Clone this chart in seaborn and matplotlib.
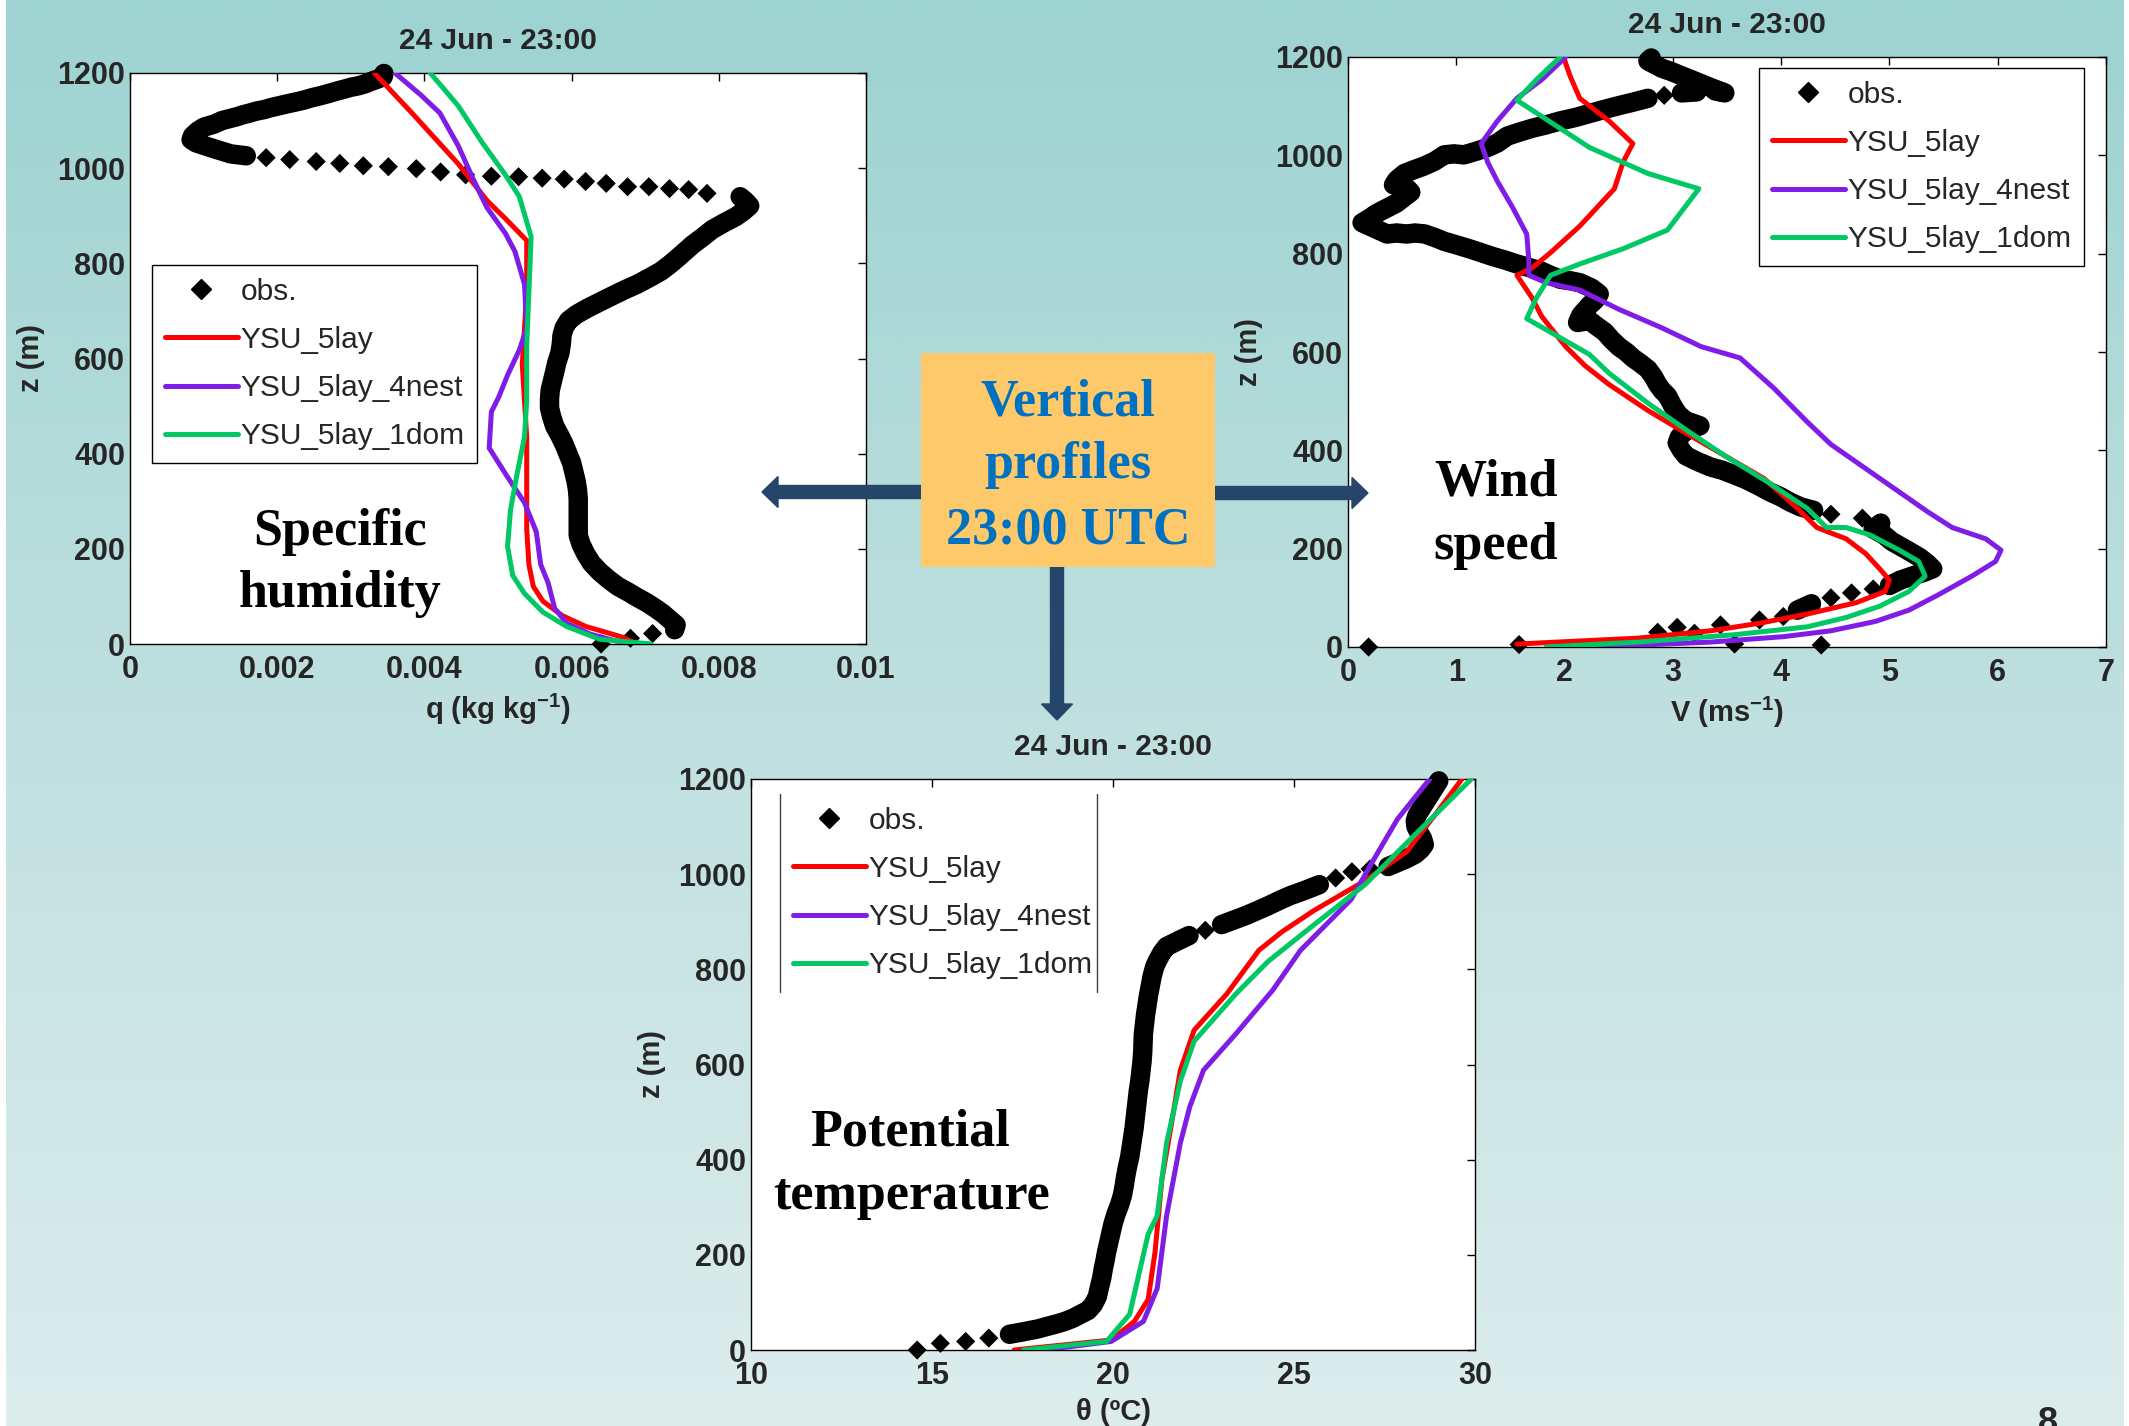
import numpy as np
import matplotlib
matplotlib.use("Agg")
import matplotlib.pyplot as plt
import seaborn as sns
from matplotlib.lines import Line2D
from matplotlib.patches import Rectangle, FancyArrow
from matplotlib.transforms import IdentityTransform
from matplotlib.colors import LinearSegmentedColormap

# ------------------------------------------------------------------
# Specific humidity (kg/kg) profiles
# ------------------------------------------------------------------
q_obs_z = [0, 12, 22, 30, 40, 52, 64, 75, 87, 98, 110, 121, 136, 152, 170, 190, 209, 228,
           247, 266, 286, 305, 324, 343, 362, 381, 400, 419, 438, 458, 477, 496, 515, 534,
           553, 572, 592, 611, 630, 649, 665, 680, 693, 706, 720, 733, 745, 756, 770, 783,
           797, 810, 825, 840, 855, 871, 885, 898, 910, 921, 931, 940, 947, 955, 957, 961,
           961, 968, 972, 977, 979, 982, 983, 986, 992, 999, 1003, 1005, 1010, 1014, 1018,
           1022, 1026, 1030, 1039, 1047, 1053, 1060, 1068, 1078, 1086, 1093, 1100, 1104,
           1108, 1112, 1116, 1120, 1123, 1127, 1131, 1135, 1139, 1143, 1148, 1152, 1157,
           1162, 1166, 1170, 1173, 1177, 1182, 1187, 1192, 1199]
q_obs = [0.0064, 0.0068, 0.0071, 0.0074, 0.00742, 0.00733, 0.00724, 0.00714, 0.00702,
         0.00689, 0.00676, 0.00663, 0.0065, 0.00638, 0.00627, 0.00619, 0.00613, 0.00609,
         0.00609, 0.00609, 0.00609, 0.00609, 0.00608, 0.00606, 0.00603, 0.006, 0.00595,
         0.0059, 0.00584, 0.00577, 0.00573, 0.0057, 0.0057, 0.00571, 0.00574, 0.00577,
         0.0058, 0.00584, 0.00586, 0.00587, 0.0059, 0.00596, 0.00607, 0.00622, 0.0064,
         0.00657, 0.00673, 0.00689, 0.00706, 0.00721, 0.00733, 0.00743, 0.00754, 0.00765,
         0.00778, 0.00791, 0.00807, 0.00823, 0.00834, 0.00842, 0.00836, 0.00829, 0.00784,
         0.00759, 0.00733, 0.00705, 0.00676, 0.00647, 0.00619, 0.0059, 0.0056, 0.00528,
         0.00491, 0.00456, 0.00422, 0.00389, 0.00351, 0.00317, 0.00285, 0.00253, 0.00217,
         0.00185, 0.00158, 0.00137, 0.00118, 0.00102, 0.0009, 0.00083, 0.00085, 0.00092,
         0.001, 0.00115, 0.00125, 0.00135, 0.00145, 0.00153, 0.00163, 0.00172, 0.00182,
         0.00191, 0.00202, 0.00213, 0.00225, 0.00236, 0.00247, 0.00258, 0.0027, 0.00281,
         0.00291, 0.003, 0.0031, 0.00319, 0.00327, 0.00336, 0.00344, 0.00345]

q_5lay_z = [0, 14, 37, 60, 90, 121, 167, 243, 358, 435, 511, 588, 664, 741, 848, 894, 932, 1009, 1116, 1200]
q_5lay = [0.00689, 0.0067, 0.00619, 0.00587, 0.00561, 0.00548, 0.00542, 0.00539, 0.00539,
          0.00539, 0.00536, 0.00533, 0.00536, 0.00539, 0.00539, 0.0051, 0.00485, 0.00446,
          0.00383, 0.00332]

q_4nest_z = [0, 21, 44, 75, 129, 167, 236, 297, 358, 412, 488, 519, 565, 618, 664, 756,
             825, 863, 917, 978, 1047, 1116, 1154, 1200]
q_4nest = [0.00676, 0.00625, 0.00593, 0.00577, 0.00568, 0.00558, 0.00552, 0.00536, 0.0051,
           0.00488, 0.00491, 0.00501, 0.00513, 0.00529, 0.00539, 0.00536, 0.00523, 0.0051,
           0.00485, 0.00466, 0.00446, 0.00421, 0.00395, 0.0036]

q_1dom_z = [0, 10, 37, 67, 106, 144, 205, 282, 358, 435, 511, 626, 741, 856, 940, 986, 1055, 1131, 1200]
q_1dom = [0.00708, 0.00638, 0.00593, 0.00561, 0.00536, 0.0052, 0.00513, 0.00517, 0.00526,
          0.00536, 0.00539, 0.00539, 0.00542, 0.00545, 0.00529, 0.0051, 0.00478, 0.00446,
          0.00408]

q_ticks = [0, 0.002, 0.004, 0.006, 0.008, 0.01]
q_ticklabels = ["0", "0.002", "0.004", "0.006", "0.008", "0.01"]

# ------------------------------------------------------------------
# Wind speed (m/s) profiles
# ------------------------------------------------------------------
v_obs_z = [0, 5, 30, 40, 28, 45, 6, 55, 62, 4, 75, 88, 100, 110, 118, 125, 136, 145, 152,
           159, 170, 182, 195, 205, 215, 228, 240, 252, 262, 270, 278, 285, 295, 305, 315,
           328, 340, 350, 360, 366, 378, 389, 400, 415, 427, 440, 450, 460, 473, 490, 511,
           522, 534, 550, 565, 577, 588, 600, 611, 626, 641, 652, 664, 660, 675, 695, 705,
           718, 730, 741, 745, 748, 756, 764, 772, 779, 787, 794, 802, 810, 818, 825, 833,
           840, 842, 840, 842, 840, 848, 856, 863, 872, 880, 886, 895, 903, 915, 925, 932,
           940, 950, 963, 970, 978, 988, 1001, 1003, 1001, 1008, 1016, 1025, 1039, 1047,
           1055, 1062, 1070, 1077, 1085, 1093, 1101, 1108, 1116, 1122, 1127, 1129, 1131,
           1127, 1137, 1146, 1154, 1162, 1170, 1177, 1185, 1192, 1198]
v_obs = [0.19, 1.58, 2.86, 3.04, 3.2, 3.44, 3.57, 3.8, 4.02, 4.37, 4.15, 4.28, 4.46, 4.65,
         4.85, 5.0, 5.1, 5.22, 5.32, 5.4, 5.35, 5.28, 5.18, 5.1, 5.02, 4.95, 4.85, 4.92,
         4.75, 4.46, 4.3, 4.18, 4.08, 4.0, 3.9, 3.79, 3.68, 3.57, 3.45, 3.35, 3.22, 3.12,
         3.08, 3.04, 3.06, 3.12, 3.25, 3.12, 3.05, 3.0, 2.95, 2.9, 2.86, 2.82, 2.77, 2.7,
         2.63, 2.57, 2.5, 2.43, 2.37, 2.3, 2.23, 2.12, 2.15, 2.23, 2.28, 2.32, 2.25, 2.14,
         2.05, 1.96, 1.87, 1.79, 1.67, 1.56, 1.45, 1.34, 1.23, 1.12, 1.0, 0.89, 0.8, 0.71,
         0.62, 0.54, 0.45, 0.36, 0.28, 0.2, 0.13, 0.2, 0.25, 0.3, 0.38, 0.45, 0.52, 0.58,
         0.55, 0.42, 0.45, 0.52, 0.6, 0.7, 0.8, 0.89, 0.98, 1.07, 1.18, 1.29, 1.38, 1.47,
         1.58, 1.7, 1.83, 1.96, 2.1, 2.23, 2.36, 2.5, 2.63, 2.77, 2.92, 3.08, 3.22, 3.39,
         3.48, 3.36, 3.26, 3.17, 3.08, 2.99, 2.9, 2.83, 2.77, 2.8]

v_5lay_z = [6, 18, 33, 48, 67, 90, 113, 136, 159, 190, 220, 243, 282, 343, 389, 435, 481,
            534, 572, 611, 672, 710, 756, 771, 802, 856, 932, 986, 1024, 1070, 1116, 1162, 1200]
v_5lay = [1.56, 2.68, 3.35, 3.79, 4.24, 4.69, 4.96, 5.0, 4.91, 4.78, 4.6, 4.33, 4.15, 3.84,
          3.48, 3.12, 2.77, 2.41, 2.19, 2.01, 1.79, 1.7, 1.56, 1.7, 1.87, 2.14, 2.46, 2.54,
          2.63, 2.41, 2.14, 2.05, 1.99]

v_4nest_z = [0, 10, 21, 33, 52, 75, 106, 144, 174, 197, 220, 243, 274, 343, 412, 458, 527,
             588, 611, 649, 687, 726, 741, 756, 787, 840, 894, 947, 986, 1024, 1070, 1116,
             1154, 1200]
v_4nest = [2.3, 3.35, 4.02, 4.46, 4.87, 5.18, 5.45, 5.76, 5.98, 6.03, 5.89, 5.58, 5.36, 4.91,
           4.46, 4.24, 3.93, 3.62, 3.26, 2.9, 2.5, 2.14, 1.83, 1.67, 1.67, 1.65, 1.52, 1.38,
           1.29, 1.23, 1.38, 1.56, 1.79, 2.01]

v_1dom_z = [0, 10, 25, 41, 60, 83, 113, 144, 174, 197, 228, 243, 243, 282, 335, 389, 442,
            496, 557, 595, 634, 668, 710, 756, 779, 810, 848, 932, 963, 1016, 1112, 1154, 1200]
v_1dom = [1.83, 2.68, 3.57, 4.24, 4.6, 4.91, 5.18, 5.33, 5.27, 5.09, 4.82, 4.6, 4.42, 4.24,
          3.88, 3.48, 3.12, 2.77, 2.41, 2.23, 1.92, 1.65, 1.74, 1.87, 2.14, 2.54, 2.95, 3.24,
          2.77, 2.23, 1.56, 1.74, 1.96]

v_ticks = [0, 1, 2, 3, 4, 5, 6, 7]

# ------------------------------------------------------------------
# Potential temperature (deg C) profiles
# ------------------------------------------------------------------
t_obs_z = [0, 14, 18, 25, 33, 38, 44, 50, 55, 60, 67, 75, 83, 95, 105, 113, 130, 152, 170,
           188, 205, 225, 245, 265, 285, 305, 325, 345, 365, 385, 405, 425, 445, 465, 485,
           505, 525, 545, 565, 585, 605, 625, 645, 665, 685, 705, 725, 745, 765, 785, 805,
           817, 835, 848, 860, 871, 882, 894, 904, 914, 924, 934, 945, 955, 966, 978, 992,
           1005, 1011, 1016, 1024, 1032, 1042, 1052, 1062, 1075, 1088, 1100, 1112, 1124,
           1136, 1148, 1160, 1172, 1184, 1196]
t_obs = [14.59, 15.23, 15.93, 16.57, 17.14, 17.5, 17.91, 18.2, 18.45, 18.67, 18.9, 19.1,
         19.31, 19.45, 19.52, 19.57, 19.62, 19.69, 19.73, 19.78, 19.82, 19.88, 19.94, 20.0,
         20.08, 20.18, 20.26, 20.31, 20.35, 20.4, 20.46, 20.5, 20.54, 20.58, 20.61, 20.64,
         20.67, 20.7, 20.74, 20.77, 20.8, 20.82, 20.83, 20.84, 20.87, 20.9, 20.94, 20.98,
         21.03, 21.08, 21.15, 21.22, 21.35, 21.48, 21.8, 22.1, 22.55, 23.0, 23.35, 23.7,
         24.0, 24.3, 24.6, 24.9, 25.3, 25.7, 26.15, 26.6, 27.1, 27.6, 27.85, 28.1, 28.35,
         28.5, 28.6, 28.55, 28.45, 28.37, 28.35, 28.4, 28.5, 28.6, 28.7, 28.8, 28.9, 29.0]

t_5lay_z = [0, 21, 60, 106, 205, 358, 473, 588, 672, 748, 840, 879, 924, 986, 1047, 1123, 1200]
t_5lay = [17.27, 19.95, 20.59, 20.97, 21.16, 21.35, 21.61, 21.86, 22.24, 23.14, 24.03, 24.67,
          25.56, 26.96, 28.11, 28.88, 29.64]

t_4nest_z = [0, 18, 60, 129, 282, 435, 511, 588, 664, 756, 840, 947, 1016, 1116, 1200]
t_4nest = [18.1, 19.95, 20.84, 21.22, 21.48, 21.86, 22.12, 22.5, 23.39, 24.41, 25.18, 26.58,
           27.09, 27.86, 28.75]

t_1dom_z = [0, 18, 75, 243, 282, 435, 565, 649, 748, 817, 879, 978, 1085, 1200]
t_1dom = [17.53, 19.82, 20.46, 20.97, 21.22, 21.48, 21.86, 22.24, 23.39, 24.29, 25.31, 26.96,
          28.37, 29.9]

t_ticks = [10, 15, 20, 25, 30]

z_ticks = [0, 200, 400, 600, 800, 1000, 1200]
series_names = ["obs.", "YSU_5lay", "YSU_5lay_4nest", "YSU_5lay_1dom"]
series_colors = ["black", "#ff0000", "#7f1de6", "#00c864"]

# ------------------------------------------------------------------
W, H, DPI = 2129, 1426, 100
LINE_W = 3.6
OBS_S = 95           # diamond marker area (pt^2)
OBS_BAND = 14        # width of the band where sounding points crowd together (pt)
GAP_PX = 16          # points closer than this (pixels) merge into one band

sns.set_style("white")
plt.rcParams["font.family"] = ["Liberation Sans", "DejaVu Sans"]
plt.rcParams["mathtext.fontset"] = "custom"
plt.rcParams["mathtext.rm"] = "Liberation Sans:bold"
plt.rcParams["mathtext.bf"] = "Liberation Sans:bold"
plt.rcParams["mathtext.default"] = "rm"

fig = plt.figure(figsize=(W / DPI, H / DPI), dpi=DPI)
fig.patch.set_facecolor("white")


def fx(px):
    return px / W


def fy(py):
    return 1 - py / H


# slide background: vertical teal gradient with thin white margins
bg = fig.add_axes([fx(6), 0, fx(2118), 1], zorder=-10)
grad = np.linspace(0, 1, 512)[:, None]
bg.imshow(grad, aspect="auto", origin="upper", extent=[0, 1, 0, 1],
          cmap=LinearSegmentedColormap.from_list("slide", ["#9dd3d1", "#bfe0df", "#dcedec"]))
bg.set_axis_off()


def obs_segments(x, z, xlim, wpx, hpx):
    """Split the sounding into runs of closely spaced points."""
    x = np.asarray(x, float)
    z = np.asarray(z, float)
    px = (x - xlim[0]) / (xlim[1] - xlim[0]) * wpx
    pz = z / 1200.0 * hpx
    step = np.hypot(np.diff(px), np.diff(pz))
    breaks = np.where(step > GAP_PX)[0] + 1
    return [(x[a:b], z[a:b]) for a, b in zip(np.r_[0, breaks], np.r_[breaks, len(x)]) if b - a > 1]


def profile_panel(left, top, right, bottom, obs, models, xlim, xticks, xticklabels, xlabel):
    ax = fig.add_axes([fx(left), fy(bottom), fx(right - left), (bottom - top) / H])
    ax.set_facecolor("white")
    for sx, sz in obs_segments(obs[0], obs[1], xlim, right - left, bottom - top):
        sns.lineplot(x=sx, y=sz, sort=False, estimator=None, color="black",
                     linewidth=OBS_BAND, ax=ax, zorder=2, legend=False,
                     solid_capstyle="round", solid_joinstyle="round", clip_on=False)
    sns.scatterplot(x=obs[0], y=obs[1], marker="D", s=OBS_S, color="black", edgecolor="none",
                    linewidth=0, ax=ax, zorder=2, legend=False, clip_on=False)
    for (mx, mz), col in zip(models, series_colors[1:]):
        sns.lineplot(x=mx, y=mz, sort=False, estimator=None, color=col, linewidth=LINE_W,
                     ax=ax, zorder=3, legend=False)
    ax.set_xlim(*xlim)
    ax.set_ylim(0, 1200)
    ax.set_xticks(xticks, xticklabels, fontsize=22, fontweight="bold")
    ax.set_yticks(z_ticks, [str(v) for v in z_ticks], fontsize=22, fontweight="bold")
    ax.tick_params(axis="both", direction="in", top=True, right=True, length=6, width=1,
                   color="black")
    ax.tick_params(axis="x", pad=8)
    ax.tick_params(axis="y", pad=3.5)
    for s in ax.spines.values():
        s.set_visible(True)
        s.set_color("black")
        s.set_linewidth(1.0)
    ax.set_title("24 Jun - 23:00", fontsize=21.5, fontweight="bold", pad=17)
    ax.set_xlabel(xlabel, fontsize=21, fontweight="bold", labelpad=5)
    ax.set_ylabel("z (m)", fontsize=21, fontweight="bold", labelpad=9)
    return ax


def legend_handles():
    hs = [Line2D([], [], marker="D", linestyle="none", color="black", markersize=10,
                 label=series_names[0])]
    for name, col in zip(series_names[1:], series_colors[1:]):
        hs.append(Line2D([], [], color=col, linewidth=LINE_W, label=name))
    return hs


def add_legend(ax, x, y, frame=True):
    leg = ax.legend(handles=legend_handles(), loc="upper left",
                    bbox_to_anchor=(fx(x), fy(y)), bbox_transform=fig.transFigure,
                    borderaxespad=0, fontsize=21.5, frameon=True, fancybox=False,
                    edgecolor="black" if frame else "none", facecolor="white",
                    framealpha=1, handlelength=2.45, handletextpad=0.1,
                    labelspacing=0.68, borderpad=0.42)
    leg.get_frame().set_linewidth(1.0)
    return leg


ax_q = profile_panel(130, 73, 866, 644, (q_obs, q_obs_z),
                     [(q_5lay, q_5lay_z), (q_4nest, q_4nest_z), (q_1dom, q_1dom_z)],
                     (0, 0.01), q_ticks, q_ticklabels, "q (kg kg$^{-1}$)")
add_legend(ax_q, 152, 265)

ax_v = profile_panel(1348, 57, 2106, 647, (v_obs, v_obs_z),
                     [(v_5lay, v_5lay_z), (v_4nest, v_4nest_z), (v_1dom, v_1dom_z)],
                     (0, 7), v_ticks, [str(v) for v in v_ticks], "V (ms$^{-1}$)")
add_legend(ax_v, 1759, 68)

ax_t = profile_panel(751, 779, 1475, 1350, (t_obs, t_obs_z),
                     [(t_5lay, t_5lay_z), (t_4nest, t_4nest_z), (t_1dom, t_1dom_z)],
                     (10, 30), t_ticks, [str(v) for v in t_ticks], "θ (ºC)")
leg_t = add_legend(ax_t, 780, 794, frame=False)

# side rules of the bottom legend
fig.canvas.draw()
bb = leg_t.get_window_extent()
for xx in (bb.x0, bb.x1 - 8):
    fig.add_artist(Line2D([xx, xx], [bb.y0, bb.y1], transform=IdentityTransform(),
                          color="#404040", linewidth=1.0, zorder=10))

# panel captions
cap = dict(fontsize=37.5, fontweight="bold", family="Liberation Serif", ha="center",
           va="baseline", color="black")
fig.text(fx(340), fy(545), "Specific", **cap)
fig.text(fx(340), fy(607), "humidity", **cap)
fig.text(fx(1496), fy(495), "Wind", **cap)
fig.text(fx(1496), fy(559), "speed", **cap)
fig.text(fx(910), fy(1146), "Potential", **cap)
fig.text(fx(911), fy(1209), "temperature", **cap)

# central box with arrows
ARROW = "#25466a"
arrow_kw = dict(width=13, head_width=31, head_length=16, length_includes_head=True,
                transform=IdentityTransform(), color=ARROW, zorder=20)
fig.add_artist(FancyArrow(921, H - 492, 762 - 921, 0, **arrow_kw))
fig.add_artist(FancyArrow(1213, H - 493, 1368 - 1213, 0, **arrow_kw))
fig.add_artist(FancyArrow(1057, H - 566, 0, -(720 - 566), **arrow_kw))
fig.add_artist(Rectangle((921, H - 567), 294, 214, transform=IdentityTransform(),
                         facecolor="#fec96b", edgecolor="none", zorder=21))
box_txt = dict(fontsize=37.5, fontweight="bold", family="Liberation Serif", ha="center",
               va="baseline", color="#0070c0", zorder=22)
fig.text(fx(1068), fy(416), "Vertical", **box_txt)
fig.text(fx(1068), fy(478), "profiles", **box_txt)
fig.text(fx(1068), fy(543), "23:00 UTC", **box_txt)

# slide number
fig.text(fx(2048), fy(1406), "8", fontsize=26, fontweight="bold", ha="center", va="top")

fig.savefig("out.png", dpi=DPI, facecolor=fig.get_facecolor())
